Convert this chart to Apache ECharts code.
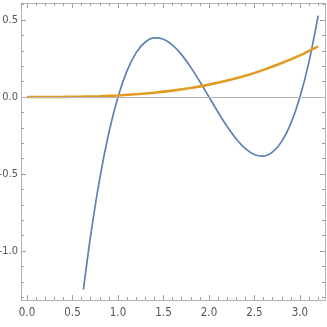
<!DOCTYPE html>
<html><head><meta charset="utf-8">
<script src="https://cdn.jsdelivr.net/npm/echarts@6/dist/echarts.min.js"></script>
<style>html,body{margin:0;padding:0;background:#fff}#c{width:327px;height:327px}</style>
</head><body><div id="c"></div>
<script>
var blueX = [0.62,0.7,0.8,0.9,1.0,1.1,1.2,1.3,1.4,1.5,1.6,1.7,1.8,1.9,2.0,2.1,2.2,2.3,2.4,2.5,2.6,2.7,2.8,2.9,3.0,3.1,3.2];
var blueY = [-1.25,-0.897,-0.528,-0.231,0,0.171,0.288,0.357,0.384,0.375,0.336,0.273,0.192,0.099,0,-0.099,-0.192,-0.273,-0.336,-0.375,-0.384,-0.357,-0.288,-0.171,0,0.231,0.528];
var orangeX = [0,0.2,0.4,0.6,0.8,1.0,1.2,1.4,1.6,1.8,2.0,2.2,2.4,2.6,2.8,3.0,3.2];
var orangeY = [0,0.0001,0.0006,0.0022,0.0051,0.01,0.0173,0.0274,0.041,0.0583,0.08,0.1065,0.138,0.176,0.22,0.27,0.328];
var xMajor = [0,0.5,1.0,1.5,2.0,2.5,3.0];
var xMinor = [0,0.1,0.2,0.3,0.4,0.5,0.6,0.7,0.8,0.9,1.0,1.1,1.2,1.3,1.4,1.5,1.6,1.7,1.8,1.9,2.0,2.1,2.2,2.3,2.4,2.5,2.6,2.7,2.8,2.9,3.0,3.1,3.2];
var yMajor = [-1.0,-0.5,0,0.5];
var yMinor = [-1.3,-1.2,-1.1,-1.0,-0.9,-0.8,-0.7,-0.6,-0.5,-0.4,-0.3,-0.2,-0.1,0,0.1,0.2,0.3,0.4,0.5,0.6];

var XMIN=-0.066, XMAX=3.275, YMIN=-1.318, YMAX=0.61;
var frame='#b3b3b3', tickC='#a0a0a0', lab='#555';
var font='"Liberation Sans Narrow","DejaVu Sans Condensed",sans-serif';
function fmt(v){ return (v<0?'-':'')+Math.abs(v).toFixed(1); }
function xa(pos, vals, len, line, labels){
  return {type:'value',position:pos,min:XMIN,max:XMAX,
    axisLine:{show:line,onZero:false,lineStyle:{color:frame,width:1}},
    axisTick:{show:true,inside:true,length:len,customValues:vals,lineStyle:{color:tickC,width:1}},
    axisLabel:{show:labels,customValues:vals,formatter:fmt,color:lab,fontSize:11.5,fontFamily:font,margin:7},
    splitLine:{show:false}};
}
function ya(pos, vals, len, line, labels){
  return {type:'value',position:pos,min:YMIN,max:YMAX,
    axisLine:{show:line,onZero:false,lineStyle:{color:frame,width:1}},
    axisTick:{show:true,inside:true,length:len,customValues:vals,lineStyle:{color:tickC,width:1}},
    axisLabel:{show:labels,customValues:vals,formatter:fmt,color:lab,fontSize:11,fontFamily:font,margin:3,hideOverlap:false},
    splitLine:{show:false}};
}
var chart = echarts.init(document.getElementById('c'));
chart.setOption({
  animation:false,
  grid:{left:21,right:2,top:3,bottom:27,containLabel:false,outerBoundsMode:'none'},
  xAxis:[xa('bottom',xMajor,5,true,true),xa('bottom',xMinor,3,false,false),xa('top',xMajor,5,true,false),xa('top',xMinor,3,false,false)],
  yAxis:[ya('left',yMajor,5,true,true),ya('left',yMinor,3,false,false),ya('right',yMajor,5,true,false),ya('right',yMinor,3,false,false)],
  series:[
    {type:'line',xAxisIndex:0,yAxisIndex:0,data:orangeX.map(function(x,i){return [x,orangeY[i]];}),
     smooth:0.3,showSymbol:false,lineStyle:{color:'#E19C24',width:2.6},z:3,
     markLine:{silent:true,symbol:'none',label:{show:false},lineStyle:{color:'#b3b3b3',width:1,type:'solid'},data:[{yAxis:0}]}},
    {type:'line',xAxisIndex:0,yAxisIndex:0,data:blueX.map(function(x,i){return [x,blueY[i]];}),
     smooth:0.3,showSymbol:false,lineStyle:{color:'#5E81B5',width:1.7},z:2}
  ]
});
</script></body></html>
